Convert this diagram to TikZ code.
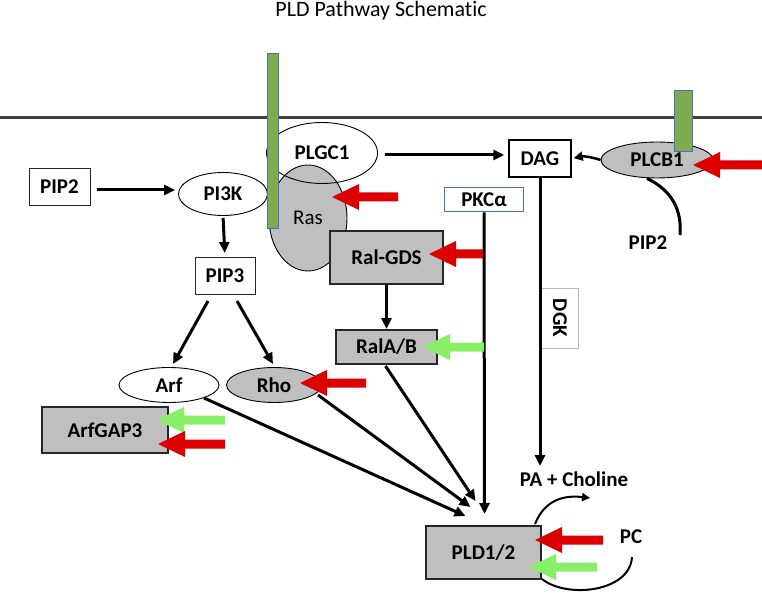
\documentclass[tikz,border=0pt]{standalone}
\usepackage{fontspec}
\setmainfont[Ligatures=NoCommon]{Carlito}
\usetikzlibrary{shapes.geometric,arrows.meta}
\definecolor{barg}{HTML}{7FAB4E}
\definecolor{barb}{HTML}{4472C4}
\definecolor{grayf}{HTML}{BFBFBF}
\definecolor{redA}{HTML}{DD0000}
\definecolor{greenA}{HTML}{88EF66}
\definecolor{memb}{HTML}{404040}
\definecolor{boxd}{HTML}{262626}
\newcommand\blockarrow[3]{\fill[#1,shift={(#2)}] (0,0) -- (27,-13) -- (27,-4.5) -- (#3,-4.5) -- (#3,4.5) -- (27,4.5) -- (27,13) -- cycle;}
\begin{document}
\begin{tikzpicture}[x=1pt,y=-1pt,
  lbl/.style={font=\fontsize{21}{25}\selectfont\bfseries},
  ell/.style={ellipse, draw=black, line width=0.9pt, inner sep=0, lbl},
  wbox/.style={rectangle, draw=boxd, line width=1pt, fill=white, inner sep=0, lbl},
  gbox/.style={rectangle, draw=boxd, line width=2pt, fill=grayf, inner sep=0, lbl},
  conn/.style={line width=3pt, -{Triangle[length=11pt,width=10pt]}},
  thinconn/.style={line width=2pt, -{Triangle[length=8pt,width=8pt]}},
  bar/.style={fill=barg, draw=barb, line width=0.8pt}]
\useasboundingbox (0,0) rectangle (762,593);

% membrane
\coordinate (mL) at (0,118);
\coordinate (mR) at (762,118);
\draw[line width=3pt, memb] (mL) -- (mR);

% title
\node[anchor=base, font=\fontsize{22}{26}\selectfont] (title) at (381,17) {PLD Pathway Schematic};

% left column
\node[wbox, minimum width=61pt, minimum height=37pt] (PIP2) at (59.5,187) {PIP2};
\node[ell, fill=white, minimum width=89pt, minimum height=43pt] (PI3K) at (223,194) {PI3K};
\node[wbox, minimum width=60pt, minimum height=37pt] (PIP3) at (225,276) {PIP3};
\node[ell, fill=white, minimum width=100pt, minimum height=35pt] (Arf) at (169,385) {Arf};
\node[ell, fill=grayf, minimum width=95pt, minimum height=35pt] (Rho) at (274,385) {Rho};
\node[gbox, minimum width=126pt, minimum height=46pt] (ArfGAP3) at (105,430) {ArfGAP3};

% Ras / PLGC1 cluster
\node[ellipse, draw=black, line width=0.9pt, fill=grayf, inner sep=0, minimum width=78pt, minimum height=106pt, font=\fontsize{21}{25}\selectfont] (Ras) at (308,218) {Ras};
\node[ell, minimum width=111pt, minimum height=61pt] (PLGC1) at (322,153) {PLGC1};
\node[gbox, minimum width=113pt, minimum height=53pt] (RalGDS) at (386.5,257.5) {Ral-GDS};
\node[gbox, minimum width=101pt, minimum height=34pt] (RalAB) at (386.5,347) {RalA/B};
\node[rectangle, draw=barb, line width=1pt, fill=white, inner sep=0, lbl, minimum width=79pt, minimum height=24pt] (PKC) at (484,200) {PKCα};

% right part
\node[rectangle, draw=black, line width=1.5pt, fill=white, inner sep=0, lbl, minimum width=62pt, minimum height=37pt] (DAG) at (540,158.5) {DAG};
\node[rectangle, draw=gray!55, line width=0.8pt, fill=white, inner sep=0, lbl, rotate=-90, minimum width=60pt, minimum height=37pt] (DGK) at (560,318) {DGK};
\node[ell, fill=grayf, minimum width=112pt, minimum height=36pt] (PLCB1) at (657,160) {PLCB1};
\node[lbl] (PIP2b) at (648,243) {PIP2};
\node[lbl] (PA) at (574,479) {PA + Choline};
\node[lbl] (PC) at (631,537) {PC};
\node[gbox, minimum width=115pt, minimum height=53pt] (PLD) at (483.5,552.5) {PLD1/2};

% transmembrane bars
\draw[bar] (267,53) rectangle (278,228);
\draw[bar] (674,90) rectangle (692,151);

% connectors
\draw[conn, shorten <=6pt, shorten >=3pt] ([yshift=-3pt]PIP2.east) -- ([yshift=4pt]PI3K.west);
\draw[conn, shorten <=2pt, shorten >=4pt] (PI3K.south) -- (PIP3.north);
\draw[conn] ([xshift=-17pt,yshift=-6pt]PIP3.south) -- ([xshift=4pt,yshift=3pt]Arf.north);
\draw[conn] ([xshift=12pt,yshift=-6pt]PIP3.south) -- ([xshift=-1pt,yshift=3pt]Rho.north);
\draw[conn] ([xshift=35pt,yshift=-13pt]Arf.center) -- ([xshift=-18pt,yshift=9pt]PLD.north);
\draw[conn] ([xshift=44pt,yshift=-10pt]Rho.center) -- ([xshift=-13pt,yshift=18pt]PLD.north);
\draw[conn] ([xshift=-1pt,yshift=-1pt]RalAB.south) -- ([xshift=-8pt,yshift=24pt]PLD.north);
\draw[conn] (PKC.south) -- ([xshift=1pt,yshift=11pt]PLD.north);
\draw[conn] (RalGDS.south) -- (RalAB.north);
\draw[conn] (DAG.south) -- ([xshift=-34pt,yshift=13pt]PA.center);
\draw[conn, shorten <=7pt, shorten >=4pt] ([yshift=-2pt]PLGC1.east) -- ([yshift=3.5pt]DAG.west);
\draw[line width=2.5pt, -{Triangle[length=9pt,width=9pt]}, shorten >=2pt] (PLCB1.west) to[bend right=15] (DAG.east);
\draw[line width=3pt] ([xshift=-10pt]PLCB1.south) .. controls +(25,12) and +(2,-25) .. ([xshift=32pt,yshift=8pt]PIP2b.center);

% PC cycle arcs
\coordinate (pcT) at (590,498);
\draw[thinconn] ([xshift=-7pt,yshift=1pt]PLD.north east) .. controls +(10,-25) and +(-25,-3) .. (pcT);
\draw[line width=2pt] ([xshift=1pt,yshift=-20pt]PC.center) .. controls +(-2,35) and +(25,20) .. ([yshift=1pt]PLD.south east);

% block arrows (regulation markers)
\coordinate (rasT) at (332,197);
\coordinate (ralgdsT) at (429,254);
\coordinate (plcbT) at (693,165);
\coordinate (ralabT) at (423,347);
\coordinate (rhoT) at (300,383);
\coordinate (agapG) at (157,420);
\coordinate (agapR) at (158,444);
\coordinate (pldR) at (535,540);
\coordinate (pldG) at (529,567);
\blockarrow{redA}{rasT}{66}
\blockarrow{redA}{ralgdsT}{54}
\blockarrow{redA}{plcbT}{69}
\blockarrow{greenA}{ralabT}{61}
\blockarrow{redA}{rhoT}{66}
\blockarrow{greenA}{agapG}{68}
\blockarrow{redA}{agapR}{67}
\blockarrow{redA}{pldR}{68}
\blockarrow{greenA}{pldG}{68}
\end{tikzpicture}
\end{document}
